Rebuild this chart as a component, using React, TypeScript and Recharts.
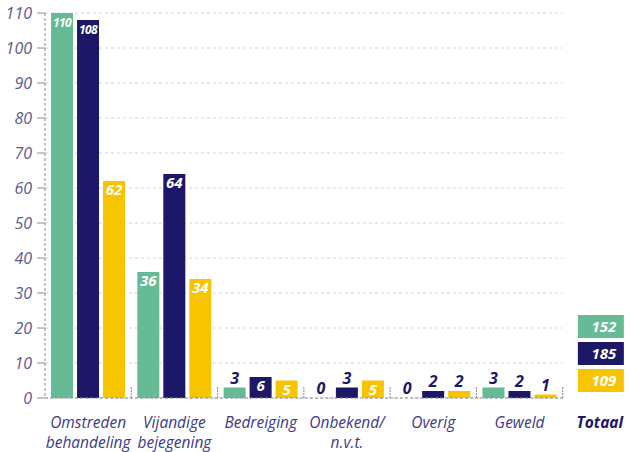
import { Bar, BarChart, CartesianGrid, LabelList, ReferenceLine, XAxis, YAxis } from "recharts";

const categories = [
  "Omstreden\nbehandeling",
  "Vijandige\nbejegening",
  "Bedreiging",
  "Onbekend/\nn.v.t.",
  "Overig",
  "Geweld",
  "Totaal",
];
const greenValues = [110, 36, 3, 0, 0, 3];
const navyValues = [108, 64, 6, 3, 2, 2];
const yellowValues = [62, 34, 5, 5, 2, 1];
const totals = [152, 185, 109];
const yTicks = [0, 10, 20, 30, 40, 50, 60, 70, 80, 90, 100, 110];

const GREEN = "#66bb96";
const NAVY = "#1c1766";
const YELLOW = "#f6c500";
const TEXT = "#3d3a88";
const FONT = "'Open Sans', sans-serif";

const data = categories.map((name, i) => ({
  name,
  green: greenValues[i] ?? null,
  navy: navyValues[i] ?? null,
  yellow: yellowValues[i] ?? null,
}));

const CHART_W = 650;
const PLOT_LEFT = 45;
const PLOT_RIGHT = 1;
const BAND = (CHART_W - PLOT_LEFT - PLOT_RIGHT) / categories.length;
const DATA_FRACTION = (categories.length - 1) / categories.length;

function ValueLabel(props: any) {
  const { x, y, width, value } = props;
  if (value === null || value === undefined) return null;
  const inside = value >= 5;
  return (
    <text
      x={x + width / 2}
      y={inside ? y + 14 : y - 4}
      textAnchor="middle"
      fill={inside ? "#fff" : NAVY}
      fontFamily={FONT}
      fontStyle="italic"
      fontWeight={700}
      fontSize={inside ? (String(value).length > 2 ? 12 : 15) : 16}
      letterSpacing={String(value).length > 2 ? -0.5 : 0}
    >
      {value}
    </text>
  );
}

function CategoryTick(props: any) {
  const { x, y, payload } = props;
  const lines = String(payload.value).split("\n");
  const isTotal = payload.value === "Totaal";
  const axisY = y;
  const colors = [GREEN, NAVY, YELLOW];
  return (
    <g>
      {!isTotal && (
        <line
          x1={x + BAND / 2}
          x2={x + BAND / 2}
          y1={axisY - 11}
          y2={axisY}
          stroke="#8a8a9a"
          strokeDasharray="2 1"
        />
      )}
      {isTotal &&
        totals.map((t, i) => (
          <g key={i}>
            <rect x={x - 28} y={axisY - 83 + i * 27} width={46} height={23} fill={colors[i]} />
            <text
              x={x - 2}
              y={axisY - 66 + i * 27}
              textAnchor="middle"
              fill="#fff"
              fontFamily={FONT}
              fontStyle="italic"
              fontWeight={700}
              fontSize={15}
            >
              {t}
            </text>
          </g>
        ))}
      {lines.map((line, i) => (
        <text
          key={i}
          x={isTotal ? x - 6 : x}
          y={axisY + 30 + i * 20}
          textAnchor="middle"
          fill={isTotal ? NAVY : TEXT}
          fontFamily={FONT}
          fontStyle="italic"
          fontWeight={isTotal ? 700 : 400}
          fontSize={15.5}
        >
          {line}
        </text>
      ))}
    </g>
  );
}

export default function App() {
  return (
    <div style={{ position: "absolute", left: 0, top: 0, width: 630, height: 452, overflow: "hidden", background: "#fff" }}>
      <BarChart
        width={CHART_W}
        height={452}
        data={data}
        margin={{ top: 13, right: PLOT_RIGHT, bottom: 0, left: 0 }}
        barCategoryGap="7%"
        barGap={4}
      >
        <CartesianGrid
          vertical={false}
          horizontal={(p: any) => (
            <line
              key={p.key ?? p.index}
              x1={p.x1}
              y1={p.y1}
              x2={p.x1 + (p.x2 - p.x1) * DATA_FRACTION}
              y2={p.y2}
              stroke="#d4d4d8"
              strokeDasharray="3 3"
            />
          )}
        />
        <XAxis
          dataKey="name"
          axisLine={false}
          tickLine={false}
          height={54}
          interval={0}
          tick={<CategoryTick />}
          tickMargin={0}
          tickSize={0}
        />
        <YAxis
          width={PLOT_LEFT}
          domain={[0, 110]}
          ticks={yTicks}
          interval={0}
          axisLine={{ stroke: "#8a8a9a", strokeDasharray: "3 2" }}
          tickLine={{ stroke: "#8a8a9a" }}
          tickSize={8}
          tickMargin={5}
          tick={{ fill: "#5b5b8c", fontFamily: FONT, fontStyle: "italic", fontSize: 16 }}
        />
        <ReferenceLine
          y={0}
          shape={(p: any) => (
            <line
              x1={p.x1}
              y1={p.y1}
              x2={p.x1 + (p.x2 - p.x1) * DATA_FRACTION}
              y2={p.y2}
              stroke="#8a8a9a"
              strokeDasharray="3 2"
            />
          )}
        />
        <Bar dataKey="green" fill={GREEN} minPointSize={0.01} isAnimationActive={false}>
          <LabelList dataKey="green" content={<ValueLabel />} />
        </Bar>
        <Bar dataKey="navy" fill={NAVY} minPointSize={0.01} isAnimationActive={false}>
          <LabelList dataKey="navy" content={<ValueLabel />} />
        </Bar>
        <Bar dataKey="yellow" fill={YELLOW} minPointSize={0.01} isAnimationActive={false}>
          <LabelList dataKey="yellow" content={<ValueLabel />} />
        </Bar>
      </BarChart>
    </div>
  );
}
